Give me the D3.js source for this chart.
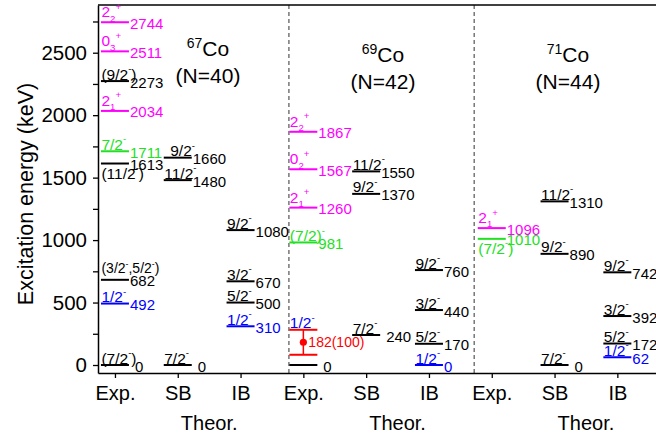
<!DOCTYPE html>
<html>
<head>
<meta charset="utf-8">
<script src="https://cdn.jsdelivr.net/npm/d3@7"></script>
<style>
  body { margin: 0; background: #fff; }
  svg { display: block; font-family: "Liberation Sans", Arial, sans-serif; }
</style>
</head>
<body>
<div id="chart"></div>
<script>
// nuclides and columns
var massNumbers = ["67", "69", "71"];
var neutronLabels = ["(N=40)", "(N=42)", "(N=44)"];
var methods = ["Exp.", "SB", "IB"];
var yTickValues = [0, 250, 500, 750, 1000, 1250, 1500, 1750, 2000, 2250, 2500, 2750];

// levels: m = column, E = energy (keV), spin markup (^ sup, _ sub), kind = colour group
var levels67 = [
  {m: "Exp.", E: 0, spin: "(7/2^-)", kind: "other", pad: true},
  {m: "Exp.", E: 492, spin: "1/2^-", kind: "half"},
  {m: "Exp.", E: 682, spin: "(3/2^-,5/2^-)", kind: "other"},
  {m: "Exp.", E: 1613, spin: "(11/2^-)", kind: "other", below: true},
  {m: "Exp.", E: 1711, spin: "7/2^-", kind: "seven"},
  {m: "Exp.", E: 2034, spin: "2_1^+", kind: "core"},
  {m: "Exp.", E: 2273, spin: "(9/2^-)", kind: "other"},
  {m: "Exp.", E: 2511, spin: "0_3^+", kind: "core"},
  {m: "Exp.", E: 2744, spin: "2_2^+", kind: "core"},
  {m: "SB", E: 0, spin: "7/2^-", kind: "other", pad: true},
  {m: "SB", E: 1480, spin: "11/2^-", kind: "other"},
  {m: "SB", E: 1660, spin: "9/2^-", kind: "other"},
  {m: "IB", E: 310, spin: "1/2^-", kind: "half"},
  {m: "IB", E: 500, spin: "5/2^-", kind: "other"},
  {m: "IB", E: 670, spin: "3/2^-", kind: "other"},
  {m: "IB", E: 1080, spin: "9/2^-", kind: "other"}
];
var levels69 = [
  {m: "Exp.", E: 0, spin: "", kind: "other", pad: true},
  {m: "Exp.", E: 981, spin: "(7/2)^-", kind: "seven"},
  {m: "Exp.", E: 1260, spin: "2_1^+", kind: "core"},
  {m: "Exp.", E: 1567, spin: "0_2^+", kind: "core"},
  {m: "Exp.", E: 1867, spin: "2_2^+", kind: "core"},
  {m: "SB", E: 240, spin: "7/2^-", kind: "other", pad: true},
  {m: "SB", E: 1370, spin: "9/2^-", kind: "other"},
  {m: "SB", E: 1550, spin: "11/2^-", kind: "other"},
  {m: "IB", E: 0, spin: "1/2^-", kind: "half"},
  {m: "IB", E: 170, spin: "5/2^-", kind: "other"},
  {m: "IB", E: 440, spin: "3/2^-", kind: "other"},
  {m: "IB", E: 760, spin: "9/2^-", kind: "other"}
];
var levels71 = [
  {m: "Exp.", E: 1010, spin: "(7/2^-)", kind: "seven", below: true},
  {m: "Exp.", E: 1096, spin: "2_1^+", kind: "core"},
  {m: "SB", E: 0, spin: "7/2^-", kind: "other", pad: true},
  {m: "SB", E: 890, spin: "9/2^-", kind: "other"},
  {m: "SB", E: 1310, spin: "11/2^-", kind: "other"},
  {m: "IB", E: 62, spin: "1/2^-", kind: "half"},
  {m: "IB", E: 172, spin: "5/2^-", kind: "other"},
  {m: "IB", E: 392, spin: "3/2^-", kind: "other"},
  {m: "IB", E: 742, spin: "9/2^-", kind: "other"}
];
// 69Co 1/2- isomer with uncertainty
var isomer69 = {m: "Exp.", E: 182, err: 100, spin: "1/2^-", kind: "half"};

var allLevels = [levels67, levels69, levels71];

var width = 656, height = 436;
var svg = d3.select("#chart").append("svg")
            .attr("width", width)
            .attr("height", height);

var colour = d3.scaleOrdinal()
               .domain(["other", "half", "seven", "core", "err"])
               .range(["#000000", "#0000ff", "#22e022", "#ff00ff", "#ff0000"]);

// hand nudges of a few spin labels [dx, lift] in px, keyed nuclide|column|energy
var spinNudge = {"0|Exp.|682": [0, 5], "0|SB|1660": [6, 0]};

// column position: 1..9
function colPos(iso, m) { return iso * 3 + methods.indexOf(m) + 1; }

var x = d3.scaleLinear().domain([0.73, 9.73]).range([98, 663.2]);
var y = d3.scaleLinear().domain([-64, 2882]).range([373, 5]);
var halfW = 0.223;
var spinSize = 15.5;

// separators
svg.append("g")
   .selectAll("line")
   .data([3.77, 6.72])
   .join("line")
   .attr("x1", d => x(d)).attr("x2", d => x(d))
   .attr("y1", y(2882)).attr("y2", y(-64))
   .attr("stroke", "#555")
   .attr("stroke-width", 1.2)
   .attr("stroke-dasharray", "4,3");

// axes
var yAxis = svg.append("g")
   .attr("transform", "translate(" + x(0.73) + ",0)")
   .call(d3.axisLeft(y).tickValues(yTickValues)
           .tickFormat(d => d % 500 == 0 ? d : "")
           .tickSize(5).tickPadding(6).tickSizeOuter(0));
yAxis.selectAll("text").attr("font-size", 20.5).attr("font-family", "Liberation Sans, Arial, sans-serif").attr("fill", "#000");
yAxis.select(".domain").attr("stroke-width", 1.5);
yAxis.selectAll(".tick line").attr("stroke-width", 1.3);

var xCats = d3.range(1, 10);
var xAxis = svg.append("g")
   .attr("transform", "translate(0," + y(-64) + ")")
   .call(d3.axisBottom(x).tickValues(xCats)
           .tickFormat(d => methods[(d - 1) % 3])
           .tickSize(5).tickPadding(8).tickSizeOuter(0));
xAxis.selectAll("text").attr("font-size", 20).attr("font-family", "Liberation Sans, Arial, sans-serif").attr("fill", "#000");
xAxis.select(".domain").attr("stroke-width", 1.5);
xAxis.selectAll(".tick line").attr("stroke-width", 1.3);

// top frame
svg.append("line")
   .attr("x1", x(0.73)).attr("x2", x(9.73))
   .attr("y1", y(2882)).attr("y2", y(2882))
   .attr("stroke", "#000").attr("stroke-width", 1.5);

// Theor. labels
svg.append("g")
   .selectAll("text")
   .data([0, 1, 2])
   .join("text")
   .attr("x", d => x(d * 3 + 2.5))
   .attr("y", 430)
   .attr("text-anchor", "middle")
   .attr("font-size", 20)
   .text("Theor.");

// y title
svg.append("text")
   .attr("transform", "translate(33,194) rotate(-90)")
   .attr("text-anchor", "middle")
   .attr("font-size", 21.5)
   .text("Excitation energy (keV)");

// nuclide titles
var titleX = [208, 383, 568];
var titleY = [56, 62, 62];
massNumbers.forEach(function(a, i) {
  var t = svg.append("text")
     .attr("x", titleX[i]).attr("y", titleY[i])
     .attr("text-anchor", "middle")
     .attr("font-size", 21);
  t.append("tspan").attr("font-size", 14).attr("dy", -8).text(a);
  t.append("tspan").attr("dy", 8).text("Co");
  svg.append("text")
     .attr("x", titleX[i]).attr("y", titleY[i] + 27)
     .attr("text-anchor", "middle")
     .attr("font-size", 21)
     .text(neutronLabels[i]);
});

// rich text: ^c superscript, _c subscript
function richText(sel, str, size) {
  var cur = 0, i = 0, run = "";
  function flush() {
    if (run) { sel.append("tspan").attr("dy", -cur).attr("font-size", size).text(run); cur = 0; run = ""; }
  }
  while (i < str.length) {
    var c = str[i];
    if ((c == "^" || c == "_") && i + 1 < str.length) {
      flush();
      var target = c == "^" ? -0.48 * size : 0.28 * size;
      sel.append("tspan").attr("dy", target - cur).attr("font-size", size * 0.62).text(str[i + 1]);
      cur = target;
      i += 2;
    } else {
      run += c;
      i++;
    }
  }
  flush();
}

function drawLevel(g, iso, d) {
  var c = colPos(iso, d.m);
  var col = colour(d.kind);
  var x0 = x(c - halfW), x1 = x(c + halfW), yy = y(d.E);
  g.append("line")
   .attr("x1", x0).attr("x2", x1).attr("y1", yy).attr("y2", yy)
   .attr("stroke", col).attr("stroke-width", 2);
  g.append("text")
   .attr("x", x1 + (d.pad ? 6 : 1)).attr("y", yy + 6.5)
   .attr("font-size", 15).attr("fill", col)
   .text(d.E);
  if (d.spin) {
    var nudge = spinNudge[iso + "|" + d.m + "|" + d.E] || [0, 0];
    var size = d.spin.length > 9 ? 14 : spinSize;
    var base = d.below ? yy + 15 : (d.spin.indexOf("_") >= 0 ? yy - 5 : yy - 1.5) - nudge[1];
    var t = g.append("text")
       .attr("x", x0 + 0.5 + nudge[0]).attr("y", base)
       .attr("fill", col);
    richText(t, d.spin, size);
  }
}

var levelG = svg.append("g");
allLevels.forEach(function(arr, iso) {
  arr.forEach(function(d) { drawLevel(levelG, iso, d); });
});

// isomer with error bar
(function() {
  var d = isomer69, c = colPos(1, d.m), red = colour("err");
  var g = svg.append("g");
  [d.E - d.err, d.E + d.err].forEach(function(e) {
    g.append("line")
     .attr("x1", x(c - halfW)).attr("x2", x(c + halfW))
     .attr("y1", y(e)).attr("y2", y(e))
     .attr("stroke", red).attr("stroke-width", 2);
  });
  g.append("line")
   .attr("x1", x(c)).attr("x2", x(c))
   .attr("y1", y(d.E - d.err)).attr("y2", y(d.E + d.err))
   .attr("stroke", red).attr("stroke-width", 1.5);
  g.append("circle")
   .attr("cx", x(c)).attr("cy", y(d.E)).attr("r", 3.6)
   .attr("fill", red);
  g.append("text")
   .attr("x", x(c) + 5).attr("y", y(d.E) + 5)
   .attr("font-size", 14).attr("fill", red)
   .text(d.E + "(" + d.err + ")");
  var t = g.append("text")
     .attr("x", x(c - halfW) + 0.5).attr("y", y(d.E + d.err) - 1.5)
     .attr("fill", colour(d.kind));
  richText(t, d.spin, spinSize);
})();
</script>
</body>
</html>
